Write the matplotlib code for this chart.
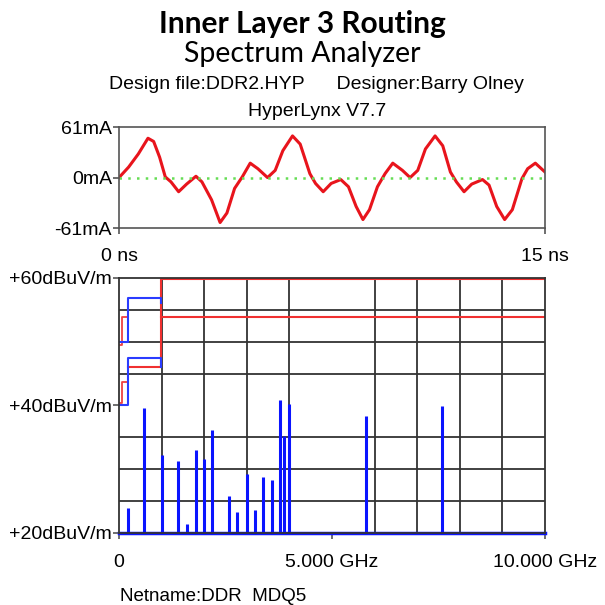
import numpy as np
import matplotlib.pyplot as plt

# Time-domain current (ns, mA)
t_ns = [0, 0.34, 0.68, 1.02, 1.22, 1.43, 1.63, 1.83, 2.10, 2.38, 2.71, 2.92, 3.26, 3.56,
        3.80, 4.07, 4.34, 4.62, 4.89, 5.23, 5.50, 5.77, 6.11, 6.38, 6.72, 6.92, 7.19,
        7.47, 7.81, 8.08, 8.35, 8.59, 8.82, 9.10, 9.37, 9.64, 9.98, 10.25, 10.52, 10.79,
        11.13, 11.40, 11.67, 11.88, 12.15, 12.42, 12.80, 13.03, 13.30, 13.58, 13.85,
        14.19, 14.39, 14.66, 15.0]
i_ma = [0, 12.7, 28.5, 47.5, 43.6, 24.6, 0.8, -5.2, -17.1, -7.9, 1.6, -5.2, -26.9, -54.3,
        -42.8, -13.1, 0.8, 17.4, 10.7, 0, 8.7, 32.5, 50.3, 40.4, 4.8, -7.1, -17.1,
        -7.1, -2.4, -11.1, -34.9, -50.7, -38.8, -11.1, 4.8, 17.4, 8.7, 0, 8.7, 34.5,
        50.3, 38.4, 6.7, -5.2, -17.1, -7.9, -2.4, -9.1, -34.9, -50.7, -38.8,
        -1.2, 10.7, 17.4, 6.7]

# Spectrum harmonics (GHz, dBuV/m)
spike_f = [0.2, 0.59, 1.0, 1.39, 1.59, 1.8, 2.0, 2.19, 2.58, 2.78, 3.0, 3.19, 3.39,
           3.58, 3.79, 3.88, 3.99, 5.79, 7.59]
spike_db = [23.9, 39.6, 32.2, 31.3, 21.3, 33.0, 31.6, 36.2, 25.7, 23.3, 29.2, 23.6,
            28.8, 28.2, 40.9, 35.2, 40.2, 38.3, 39.9]

# limit / peak traces in the upper left corner
red1_f = [0.0, 0.08, 0.08, 0.2]
red1_db = [49.5, 49.5, 53.9, 53.9]
red2_f = [0.0, 0.08, 0.08, 0.2]
red2_db = [40.3, 40.3, 43.6, 43.6]
red3_f = [0.2, 0.98, 0.98, 10.0]
red3_db = [46.0, 46.0, 59.8, 59.8]
red4_f = [0.98, 10.0]
red4_db = [53.9, 53.9]
blue1_f = [0.0, 0.2, 0.2, 0.98, 0.98]
blue1_db = [50.0, 50.0, 56.8, 56.8, 56.0]
blue2_f = [0.0, 0.2, 0.2, 0.98, 0.98]
blue2_db = [40.0, 40.0, 47.5, 47.5, 46.0]

fig = plt.figure(figsize=(6.05, 6.05), dpi=100)
plt.rcParams['font.family'] = ['Liberation Sans', 'DejaVu Sans']

fig.text(0.5, 0.961, "Inner Layer 3 Routing", ha='center', va='center',
         fontsize=21.5, fontweight='bold', family='Lato')
fig.text(0.5, 0.911, "Spectrum Analyzer", ha='center', va='center', fontsize=20.5, family='Lato')
fig.text(0.523, 0.860, "Design file:DDR2.HYP      Designer:Barry Olney", ha='center',
         va='center', fontsize=14)
fig.text(0.525, 0.816, "HyperLynx V7.7", ha='center', va='center', fontsize=14)
fig.text(0.198, 0.0, "Netname:DDR  MDQ5", ha='left', va='bottom', fontsize=13.5)

# top: time domain
ax1 = fig.add_axes([0.1967, 0.623, 0.7041, 0.167])
ax1.plot(t_ns, i_ma, color='#e8141c', lw=2.2)
ax1.axhline(0, color='#66dd55', ls=(0, (1, 2.5)), lw=1.8)
ax1.set_xlim(0, 15)
ax1.set_ylim(-61, 61)
ax1.set_yticks([61, 0, -61])
ax1.set_yticklabels(["61mA", "0mA", "-61mA"])
ax1.set_xticks([0, 15])
ax1.set_xticklabels(["0 ns", "15 ns"])
for s in ax1.spines.values():
    s.set_color('#555555')
    s.set_linewidth(1.2)
ax1.tick_params(axis='both', length=4, color='#555555', labelsize=14, width=1.2)
ax1.tick_params(axis='x', pad=10)
ax1.tick_params(axis='y', pad=1)

# bottom: spectrum
ax2 = fig.add_axes([0.1967, 0.1195, 0.7041, 0.421])
ax2.set_xlim(0, 10)
ax2.set_ylim(20, 60)
ax2.set_xticks(np.arange(0, 11, 1), minor=True)
ax2.set_yticks(np.arange(20, 61, 5), minor=True)
ax2.grid(which='minor', color='#333333', lw=1.3)
ax2.set_xticks([0, 5, 10])
ax2.set_xticklabels(["0", "5.000 GHz", "10.000 GHz"])
ax2.set_yticks([60, 40, 20])
ax2.set_yticklabels(["+60dBuV/m", "+40dBuV/m", "+20dBuV/m"])
ax2.tick_params(which='minor', length=0)
ax2.tick_params(axis='both', length=4, color='#555555', labelsize=14, width=1.2)
ax2.tick_params(axis='x', pad=11)
ax2.tick_params(axis='y', pad=1)
for s in ax2.spines.values():
    s.set_color('#333333')
    s.set_linewidth(1.3)

ax2.plot(red1_f, red1_db, color='#f04040', lw=1.3)
ax2.plot(red2_f, red2_db, color='#f04040', lw=1.3)
ax2.plot(red3_f, red3_db, color='#f03030', lw=1.5)
ax2.plot(red4_f, red4_db, color='#f03030', lw=1.5)
ax2.plot(blue1_f, blue1_db, color='#2a3cff', lw=1.5)
ax2.plot(blue2_f, blue2_db, color='#2a3cff', lw=1.5)
ax2.vlines(spike_f, 20, spike_db, color='#0a14ff', lw=2.2)
ax2.axhline(20, color='#0a14ff', lw=2.5, clip_on=False)

fig.savefig("out.png", dpi=100)
